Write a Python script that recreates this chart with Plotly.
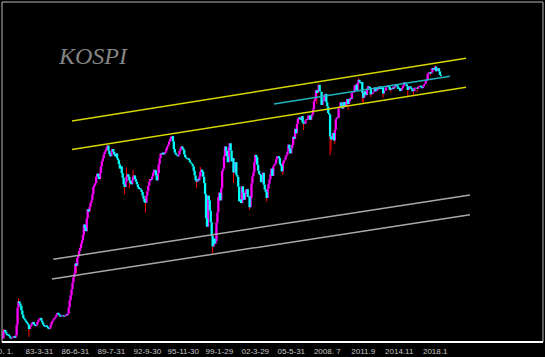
import plotly.graph_objects as go

# ---------------- data (monthly closes) ----------------
start_year = 1980
base_open = 100

close_1980s = [
    109, 111, 108, 106, 104, 105, 103, 101, 100, 101, 102, 103,
    101, 104, 118, 145, 156, 152, 148, 140, 133, 128, 126, 124,
    122, 120, 118, 112, 115, 117, 120, 122, 119, 117, 116, 118,
    122, 125, 127, 128, 124, 121, 118, 116, 115, 117, 115, 113,
    112, 114, 118, 122, 124, 126, 128, 130, 133, 136, 134, 132,
    130, 131, 132, 131, 130, 131, 133, 132, 135, 145, 158, 168,
    180, 195, 208, 218, 245, 238, 262, 268, 285, 295, 310, 322,
    345, 390, 375, 360, 420, 468, 455, 480, 505, 520, 560, 610,
    625, 640, 690, 715, 690, 670, 720, 780, 830, 860, 900, 930,
    950, 980, 1000, 940, 900, 880, 920, 960, 930, 900, 880, 910,
]
close_1990s = [
    860, 840, 800, 760, 780, 720, 680, 630, 610, 650, 690, 710,
    690, 660, 640, 630, 660, 690, 700, 670, 650, 630, 610, 595,
    600, 590, 575, 550, 530, 510, 505, 550, 580, 620, 650, 670,
    665, 690, 720, 750, 745, 700, 660, 720, 800, 860, 910, 900,
    920, 900, 910, 930, 960, 990, 1010, 1050, 1080, 1110, 1120, 1050,
    960, 920, 900, 890, 880, 900, 940, 960, 990, 970, 950, 900,
    870, 860, 850, 860, 840, 820, 810, 800, 780, 740, 700, 660,
    650, 670, 660, 690, 730, 750, 730, 690, 640, 560, 420, 380,
    550, 520, 460, 400, 340, 300, 330, 310, 320, 400, 450, 540,
    570, 520, 600, 740, 760, 880, 990, 940, 880, 820, 980, 1028,
]
close_2000s = [
    943, 828, 860, 725, 731, 821, 705, 689, 613, 514, 526, 504,
    615, 570, 524, 558, 587, 595, 541, 545, 479, 534, 638, 693,
    725, 820, 895, 872, 796, 742, 714, 704, 646, 669, 723, 627,
    591, 576, 535, 599, 634, 669, 711, 759, 697, 780, 797, 810,
    848, 880, 881, 862, 803, 785, 735, 810, 835, 845, 878, 896,
    932, 1011, 965, 911, 970, 1008, 1111, 1083, 1221, 1159, 1297, 1379,
    1399, 1371, 1359, 1420, 1318, 1295, 1297, 1352, 1371, 1364, 1432, 1434,
    1360, 1417, 1453, 1543, 1700, 1744, 1933, 1873, 1946, 2064, 1906, 1897,
    1624, 1712, 1704, 1825, 1852, 1674, 1595, 1474, 1448, 1113, 1076, 1124,
    1162, 1063, 1206, 1369, 1396, 1390, 1557, 1591, 1673, 1580, 1555, 1682,
]
close_2010s = [
    1602, 1594, 1692, 1741, 1641, 1698, 1759, 1742, 1872, 1882, 1904, 2051,
    2069, 1939, 2107, 2192, 2142, 2101, 2133, 1880, 1769, 1909, 1847, 1826,
    1955, 2030, 2014, 1982, 1843, 1854, 1881, 1905, 1996, 1912, 1932, 1997,
    1961, 2026, 2005, 1963, 2001, 1863, 1920, 1926, 1997, 2030, 2044, 2011,
    1941, 1980, 1986, 1961, 2017, 2002, 2076, 2068, 2020, 1964, 1981, 1916,
    1949, 1985, 2041, 2127, 2114, 2074, 2030, 1941, 1963, 2029, 1991, 1961,
    1912, 1917, 1996, 1994, 1983, 1970, 2016, 2034, 2043, 2008, 1983, 2026,
    2067, 2091, 2160, 2205, 2347, 2392, 2402, 2363, 2394, 2523, 2476, 2467,
    2566, 2427, 2445, 2515, 2423, 2326, 2295,
]

# visible wicks (month, low, high)
wick_month = ["1980-01", "1981-05", "1982-04", "1986-06", "1989-03", "1990-09",
              "1990-11", "1991-02", "1991-06", "1992-07", "1997-01", "1997-05",
              "1998-06", "2000-04", "2001-09", "2003-03", "2004-08", "2006-06",
              "2007-08", "2007-10", "2008-10", "2008-11", "2009-03", "2010-05",
              "2011-04", "2011-08", "2011-09", "2012-05", "2013-06", "2014-02",
              "2015-08", "2016-02", "2016-06", "2017-08", "2018-01", "2018-07"]
wick_low = [104, 150, 102, 217, 975, 560, 650, 600, 690, 450, 600, 725,
            277, 640, 464, 512, 705, 1203, 1638, 1940, 892, 940, 1020, 1530,
            2100, 1684, 1644, 1780, 1770, 1890, 1800, 1817, 1892, 2310, 2466, 2240]
wick_high = [112, 162, 118, 245, 1010, 630, 770, 690, 747, 530, 665, 775,
             345, 865, 550, 580, 815, 1320, 1935, 2085, 1450, 1130, 1210, 1740,
             2231, 2135, 1890, 1985, 2005, 1985, 2030, 1920, 2000, 2410, 2607, 2330]

tick_labels = ["80. 1.", "83-3-31", "86-6-31", "89-7-31", "92-9-30", "95-11-30",
               "99-1-29", "02-3-29", "05-5-31", "2008. 7", "2011.9", "2014.11", "2018.1"]
tick_every_months = 38

# trend lines (time in years, index value)
yellow_upper_t, yellow_upper_v = [1986.04, 2020.71], [1341, 2832]
yellow_lower_t, yellow_lower_v = [1986.04, 2020.71], [953, 2004]
cyan_t, cyan_v = [2003.81, 2019.30], [1642, 2286]
gray_upper_t, gray_upper_v = [1984.39, 2021.06], [257.5, 554.6]
gray_lower_t, gray_lower_v = [1984.28, 2021.06], [203.6, 438.5]

# ---------------- build figure ----------------
close = close_1980s + close_1990s + close_2000s + close_2010s
opens = [base_open] + close[:-1]
t = [start_year + i / 12 for i in range(len(close))]

up_x, up_y, dn_x, dn_y = [], [], [], []
for ti, o, c in zip(t, opens, close):
    if c >= o:
        up_x += [ti, ti, None]; up_y += [o, c, None]
    else:
        dn_x += [ti, ti, None]; dn_y += [o, c, None]

wk_x, wk_y = [], []
for m, lo, hi in zip(wick_month, wick_low, wick_high):
    yy, mm = int(m[:4]), int(m[5:])
    wk_x += [yy + (mm - 1) / 12] * 2 + [None]
    wk_y += [lo, hi, None]

fig = go.Figure()
fig.add_trace(go.Scatter(x=wk_x, y=wk_y, mode="lines", line=dict(color="#ff0000", width=1),
                         hoverinfo="skip", showlegend=False))
fig.add_trace(go.Scatter(x=up_x, y=up_y, mode="lines", line=dict(color="#ff00ff", width=2.3),
                         hoverinfo="skip", showlegend=False))
fig.add_trace(go.Scatter(x=dn_x, y=dn_y, mode="lines", line=dict(color="#00ffff", width=2.3),
                         hoverinfo="skip", showlegend=False))

for tx, vy, col in [(yellow_upper_t, yellow_upper_v, "#d6d600"),
                    (yellow_lower_t, yellow_lower_v, "#d6d600"),
                    (cyan_t, cyan_v, "#20b4c0"),
                    (gray_upper_t, gray_upper_v, "#a8a8a8"),
                    (gray_lower_t, gray_lower_v, "#a8a8a8")]:
    fig.add_trace(go.Scatter(x=tx, y=vy, mode="lines", line=dict(color=col, width=1.5),
                             hoverinfo="skip", showlegend=False))

tickvals = [start_year + tick_every_months * i / 12 for i in range(len(tick_labels))]

fig.update_layout(
    width=545, height=357,
    margin=dict(l=2, r=2, t=2, b=15),
    paper_bgcolor="#000000", plot_bgcolor="#000000",
    showlegend=False,
    xaxis=dict(range=[1979.879, 2027.486], showgrid=False, zeroline=False,
               tickvals=tickvals, ticktext=tick_labels, ticks="",
               automargin=False, ticklabeloverflow="allow", ticklabelstandoff=3,
               tickfont=dict(family="Liberation Sans", size=8, color="#c8c8c8")),
    yaxis=dict(type="log", range=[1.9823, 3.7439], showgrid=False, zeroline=False,
               showticklabels=False, ticks="", automargin=False),
    shapes=[
        dict(type="line", xref="paper", yref="paper", x0=0, x1=1, y0=1, y1=1,
             line=dict(color="#b8b8b8", width=1)),
        dict(type="line", xref="paper", yref="paper", x0=0, x1=0, y0=0, y1=1,
             line=dict(color="#b8b8b8", width=1)),
        dict(type="line", xref="paper", yref="paper", x0=1, x1=1, y0=0, y1=1,
             line=dict(color="#b8b8b8", width=1)),
        dict(type="line", xref="paper", yref="paper", x0=0, x1=1, y0=0, y1=0,
             line=dict(color="#ffffff", width=2)),
    ],
    annotations=[dict(text="KOSPI", xref="paper", yref="paper", x=0.168, y=0.841,
                      xanchor="center", yanchor="middle", showarrow=False,
                      font=dict(family="Liberation Serif", size=24, color="#858585",
                                style="italic"))],
)

fig.write_html("out.html")
